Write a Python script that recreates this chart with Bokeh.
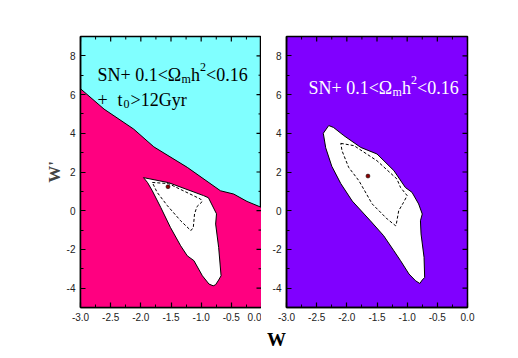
import math
from bokeh.plotting import figure
from bokeh.models import FixedTicker, PrintfTickFormatter, Label, Range1d, AllLabels
from bokeh.layouts import row, column
from bokeh.embed import file_html
from bokeh.resources import INLINE

# ---------------- data ----------------
x_ticks = [-3.0, -2.5, -2.0, -1.5, -1.0, -0.5, 0.0]
x_minor = [-2.75, -2.25, -1.75, -1.25, -0.75, -0.25]
y_ticks = [-4, -2, 0, 2, 4, 6, 8]
y_minor = [-5, -3, -1, 1, 3, 5, 7, 9]

# left panel: t0 > 12 Gyr boundary (region below is allowed)
age_w = [-3.0, -2.61, -2.12, -1.785, -1.23, -0.68, -0.46, -0.24, 0.0]
age_wp = [6.3, 5.25, 4.22, 3.3, 2.24, 1.03, 0.86, 0.48, 0.17]

# left panel: outer (solid) contour
left_outer_w = [-1.956, -1.54, -0.96, -0.88, -0.746, -0.76, -0.71, -0.67, -0.71, -0.76,
                -0.80, -0.87, -0.98, -1.12, -1.23, -1.34, -1.51, -1.67, -1.81, -1.89]
left_outer_wp = [1.71, 1.45, 0.78, 0.67, -0.16, -0.69, -1.9, -3.36, -3.58, -3.82,
                 -3.88, -3.79, -3.36, -2.58, -2.33, -1.81, -0.86, 0.17, 1.03, 1.46]
# left panel: inner (dashed) contour
left_inner_w = [-1.81, -1.54, -1.01, -0.98, -1.07, -1.11, -1.13, -1.17, -1.34, -1.56, -1.73]
left_inner_wp = [1.46, 1.40, 0.60, 0.48, 0.21, -0.17, -0.86, -1.03, -0.52, 0.26, 0.95]
left_best = ([-1.55], [1.24])

# right panel: outer (solid) contour
right_outer_w = [-2.30, -2.39, -2.35, -2.25, -2.10, -1.91, -1.61, -1.39, -1.22, -1.11,
                 -0.97, -0.86, -0.79, -0.75, -0.71, -0.72, -0.77, -0.78, -0.75, -0.81,
                 -0.92, -1.03, -1.22, -1.50, -1.77, -2.05, -2.22]
right_outer_wp = [4.40, 4.00, 3.25, 2.30, 1.40, 0.50, -0.52, -1.29, -2.07, -2.58,
                  -3.27, -3.62, -3.76, -3.58, -3.45, -2.41, -1.20, -0.52, -0.17, 0.35,
                  0.95, 1.20, 2.07, 2.93, 3.27, 3.88, 4.30]
# right panel: inner (dashed) contour
right_inner_w = [-2.10, -1.88, -1.50, -1.17, -1.11, -1.00, -1.06, -1.14, -1.18, -1.19,
                 -1.33, -1.58, -1.80, -1.97, -2.08]
right_inner_wp = [3.48, 3.36, 2.58, 1.64, 1.20, 0.78, 0.43, 0.00, -0.69, -0.78,
                  -0.43, 0.35, 1.55, 2.24, 3.10]
right_best = ([-1.65], [1.79])

CYAN = "#80FFFF"
PINK = "#FF0080"
PURPLE = "#8000FF"
SERIF = "Liberation Serif"
SANS = "Liberation Sans"

X0, X1, Y0, Y1 = -3.0, 0.0, -5.0, 9.0
FW, FH = 181, 271
TOP, BOTTOM = 36, 20


def style_axis(ax, ticks, minor, fmt):
    ax.ticker = FixedTicker(ticks=ticks, minor_ticks=minor)
    ax.formatter = PrintfTickFormatter(format=fmt)
    ax.major_label_policy = AllLabels()
    ax.major_tick_in = 5
    ax.major_tick_out = 0
    ax.minor_tick_in = 3
    ax.minor_tick_out = 0
    ax.axis_line_width = 1.5
    ax.major_tick_line_width = 1.2
    ax.minor_tick_line_width = 1.0
    ax.major_label_text_font = SANS
    ax.major_label_text_font_size = "10px"
    ax.major_label_text_color = "#222222"
    ax.major_label_standoff = 5


def frame_ticks(p):
    # inward ticks on the top and right frame edges, from the same tick lists
    dxp = (X1 - X0) / FW
    dyp = (Y1 - Y0) / FH
    for ticks, ln, lw in ((x_ticks, 5, 1.2), (x_minor, 3, 1.0)):
        p.segment(x0=ticks, y0=[Y1] * len(ticks), x1=ticks, y1=[Y1 - ln * dyp] * len(ticks),
                  line_color="black", line_width=lw)
    for ticks, ln, lw in ((y_ticks, 5, 1.2), (y_minor, 3, 1.0)):
        p.segment(x0=[X1] * len(ticks), y0=ticks, x1=[X1 - ln * dxp] * len(ticks), y1=ticks,
                  line_color="black", line_width=lw)


def make_panel(bg, border_left, border_right):
    p = figure(frame_width=FW, frame_height=FH,
               x_range=Range1d(X0, X1), y_range=Range1d(Y0, Y1),
               min_border_left=border_left, min_border_right=border_right,
               min_border_top=TOP, min_border_bottom=BOTTOM,
               background_fill_color=bg, border_fill_color="white",
               outline_line_color="black", outline_line_width=1.5,
               output_backend="svg", toolbar_location=None, tools="")
    p.xgrid.visible = False
    p.ygrid.visible = False
    style_axis(p.xaxis[0], x_ticks, x_minor, "%.1f")
    style_axis(p.yaxis[0], y_ticks, y_minor, "%d")
    return p


def pos(px, py, frame_left):
    # page pixel -> data coordinates (frame top at TOP)
    x = X0 + (px - frame_left) * (X1 - X0) / FW
    y = Y1 - (py - TOP) * (Y1 - Y0) / FH
    return x, y


def add_text(p, frame_left, px, py, text, size, color):
    x, y = pos(px, py, frame_left)
    p.add_layout(Label(x=x, y=y, text=text, text_font=SERIF, text_font_size=size,
                       text_color=color, text_baseline="alphabetic"))


def title_line(p, frame_left, x0, base, color):
    add_text(p, frame_left, x0, base, "SN+ 0.1<\u03a9", "18px", color)
    add_text(p, frame_left, x0 + 84, base + 4, "m", "12px", color)
    add_text(p, frame_left, x0 + 93.5, base, "h", "18px", color)
    add_text(p, frame_left, x0 + 102.5, base - 8, "2", "12px", color)
    add_text(p, frame_left, x0 + 108.5, base, "<0.16", "18px", color)


# ---------------- left panel ----------------
L_LEFT = 80
p1 = make_panel(CYAN, L_LEFT, 0)
p1.patch([X0] + age_w + [X1], [Y0] + age_wp + [Y0], fill_color=PINK, line_color=None)
p1.line(age_w, age_wp, line_color="black", line_width=1)
p1.patch(left_outer_w, left_outer_wp, fill_color="white", line_color="black", line_width=1)
p1.patch(left_inner_w, left_inner_wp, fill_color=None, line_color="black",
         line_width=1, line_dash="3 2")
p1.scatter(*left_best, size=4, fill_color="#8B0000", line_color="black", line_width=0.5)
frame_ticks(p1)
title_line(p1, L_LEFT, 97, 74, "black")
add_text(p1, L_LEFT, 97, 99, "+", "18px", "black")
add_text(p1, L_LEFT, 117, 99, "t", "18px", "black")
add_text(p1, L_LEFT, 123, 103, "0", "12px", "black")
add_text(p1, L_LEFT, 130, 99, ">12Gyr", "18px", "black")
p1.yaxis.axis_label = "W'"
p1.yaxis.axis_label_text_font = SERIF
p1.yaxis.axis_label_text_font_style = "bold"
p1.yaxis.axis_label_text_font_size = "17px"
p1.yaxis.axis_label_standoff = 0

# ---------------- right panel ----------------
R_LEFT = 286
p2 = make_panel(PURPLE, R_LEFT - (L_LEFT + FW), 40)
p2.patch(right_outer_w, right_outer_wp, fill_color="white", line_color="black", line_width=1)
p2.patch(right_inner_w, right_inner_wp, fill_color=None, line_color="black",
         line_width=1, line_dash="3 2")
p2.scatter(*right_best, size=4, fill_color="#8B0000", line_color="black", line_width=0.5)
frame_ticks(p2)
title_line(p2, R_LEFT, 308, 87, "white")

# ---------------- shared x-axis title strip ----------------
total_w = (L_LEFT + FW) + (R_LEFT - (L_LEFT + FW)) + FW + 40
strip_h = 23
p3 = figure(width=total_w, height=strip_h, x_range=Range1d(0, total_w),
            y_range=Range1d(0, strip_h), x_axis_type=None, y_axis_type=None,
            min_border=0, outline_line_color=None, background_fill_color="white",
            border_fill_color="white", output_backend="svg", toolbar_location=None, tools="")
p3.xgrid.visible = False
p3.ygrid.visible = False
p3.add_layout(Label(x=276, y=strip_h / 2, text="W", text_font=SERIF, text_font_style="bold",
                    text_font_size="19px", text_color="black", text_align="center",
                    text_baseline="middle"))

layout = column(row(p1, p2), p3)
open("out.html", "w").write(file_html(layout, INLINE))
